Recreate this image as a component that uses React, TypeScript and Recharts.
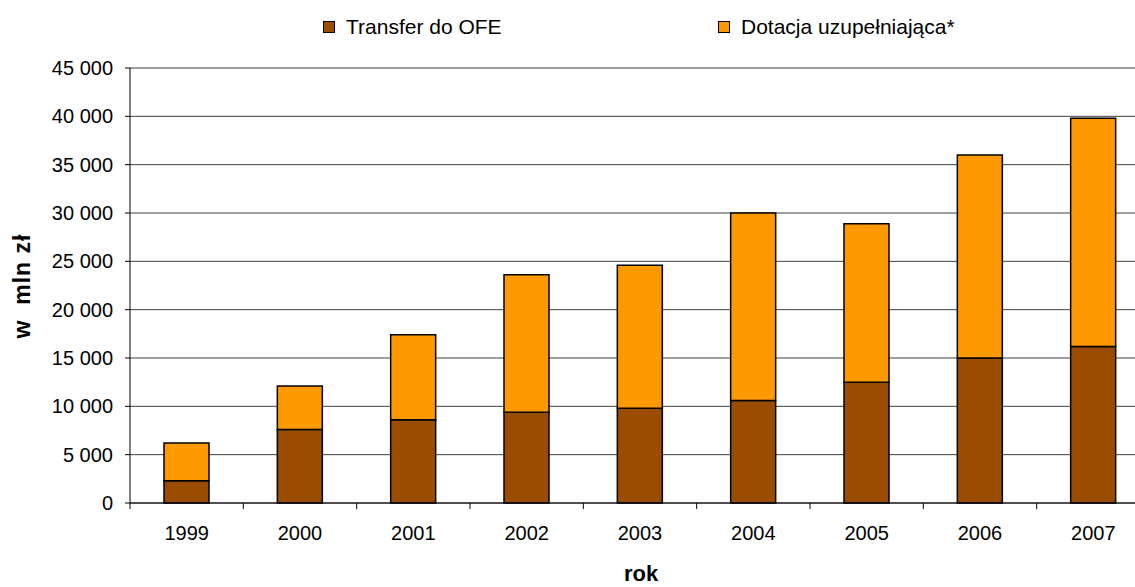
import React from "react";
import { BarChart, Bar, XAxis, YAxis, CartesianGrid } from "recharts";

const years = ["1999", "2000", "2001", "2002", "2003", "2004", "2005", "2006", "2007"];
const transfer = [2300, 7600, 8600, 9400, 9800, 10600, 12500, 15000, 16200];
const dotacja = [3900, 4500, 8800, 14200, 14800, 19400, 16400, 21000, 23600];
const yTicks = [0, 5000, 10000, 15000, 20000, 25000, 30000, 35000, 40000, 45000];

const data = years.map((rok, i) => ({ rok, transfer: transfer[i], dotacja: dotacja[i] }));

const FONT = "'Liberation Sans', Arial, sans-serif";
const CHART_W = 1160;
const CHART_H = 587;
const LEFT = 130;
const RIGHT = 10;
const BAND = (CHART_W - LEFT - RIGHT) / years.length;

function fmt(v: number) {
  return String(v).replace(/\B(?=(\d{3})+(?!\d))/g, " ");
}

function YearTick({ x, y, payload }: any) {
  const edge = x - BAND / 2;
  return (
    <g>
      <line x1={edge} y1={y} x2={edge} y2={y + 6} stroke="#000" />
      <text x={x} y={y + 37} textAnchor="middle" fontSize={20} fill="#000" fontFamily={FONT}>
        {payload.value}
      </text>
    </g>
  );
}

function LegendItem({ left, color, label }: { left: number; color: string; label: string }) {
  return (
    <div style={{ position: "absolute", left, top: 16, display: "flex", alignItems: "center" }}>
      <span
        style={{
          display: "inline-block",
          width: 10,
          height: 10,
          background: color,
          border: "1px solid #000",
          marginRight: 11,
        }}
      />
      <span style={{ fontSize: 21, lineHeight: 1 }}>{label}</span>
    </div>
  );
}

export default function App() {
  return (
    <div
      style={{
        position: "fixed",
        left: 0,
        top: 0,
        width: 1135,
        height: 587,
        overflow: "hidden",
        background: "#fff",
        fontFamily: FONT,
        color: "#000",
      }}
    >
      <BarChart
        width={CHART_W}
        height={CHART_H}
        data={data}
        margin={{ top: 68, right: RIGHT, left: 0, bottom: 0 }}
        barCategoryGap="30%"
      >
        <CartesianGrid vertical={false} stroke="#404040" />
        <XAxis
          dataKey="rok"
          axisLine={{ stroke: "#000" }}
          tickLine={false}
          tickSize={0}
          tickMargin={0}
          tick={<YearTick />}
          interval={0}
          height={84}
        />
        <YAxis
          width={LEFT}
          domain={[0, 45000]}
          ticks={yTicks}
          interval={0}
          tickFormatter={fmt}
          axisLine={{ stroke: "#000" }}
          tickLine={{ stroke: "#000" }}
          tickSize={5}
          tickMargin={12}
          tick={{ fill: "#000", fontSize: 20, fontFamily: FONT }}
        />
        <Bar dataKey="transfer" stackId="a" fill="#9A4C00" stroke="#000" strokeWidth={1.5} isAnimationActive={false} />
        <Bar dataKey="dotacja" stackId="a" fill="#FF9900" stroke="#000" strokeWidth={1.5} isAnimationActive={false} />
      </BarChart>

      <LegendItem left={323} color="#9A4C00" label="Transfer do OFE" />
      <LegendItem left={718} color="#FF9900" label="Dotacja uzupełniająca*" />

      <div
        style={{
          position: "absolute",
          left: 22,
          top: 286,
          transform: "translate(-50%, -50%) rotate(-90deg)",
          fontSize: 23,
          letterSpacing: 1,
          fontWeight: "bold",
          whiteSpace: "pre",
          lineHeight: 1,
        }}
      >
        {"w  mln zł"}
      </div>
      <div
        style={{
          position: "absolute",
          left: 641,
          top: 563,
          transform: "translateX(-50%)",
          fontSize: 22,
          fontWeight: "bold",
          lineHeight: 1,
        }}
      >
        rok
      </div>
    </div>
  );
}
